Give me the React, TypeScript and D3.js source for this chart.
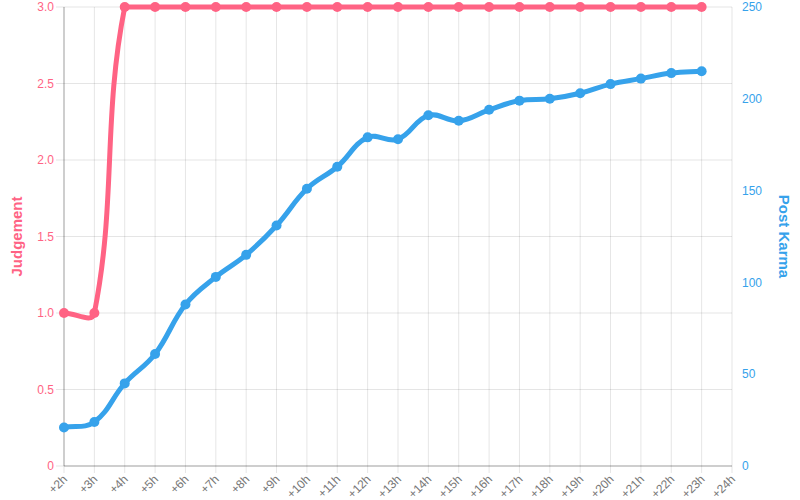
import React from "react";
import * as d3 from "d3";

const hours = ["+2h","+3h","+4h","+5h","+6h","+7h","+8h","+9h","+10h","+11h","+12h","+13h","+14h","+15h","+16h","+17h","+18h","+19h","+20h","+21h","+22h","+23h","+24h"];
const judgement = [1.0, 1.0, 3.0, 3.0, 3.0, 3.0, 3.0, 3.0, 3.0, 3.0, 3.0, 3.0, 3.0, 3.0, 3.0, 3.0, 3.0, 3.0, 3.0, 3.0, 3.0, 3.0];
const postKarma = [21, 24, 45, 61, 88, 103, 115, 131, 151, 163, 179, 178, 191, 188, 194, 199, 200, 203, 208, 211, 214, 215];
const leftTicks = [0, 0.5, 1.0, 1.5, 2.0, 2.5, 3.0];
const rightTicks = [0, 50, 100, 150, 200, 250];

const W = 800, H = 500;
const L = 64, R = 732, T = 7, B = 466;
const PINK = "#ff6384";
const BLUE = "#36a2eb";
const FONT = "'Liberation Sans', Arial, Helvetica, sans-serif";

type P = { x: number; y: number };

function splinePath(pts: P[], tension = 0.4): string {
  const n = pts.length;
  const cps = pts.map((cur, i) => {
    const prev = pts[Math.max(0, i - 1)];
    const next = pts[Math.min(n - 1, i + 1)];
    const d01 = Math.hypot(cur.x - prev.x, cur.y - prev.y);
    const d12 = Math.hypot(next.x - cur.x, next.y - cur.y);
    let s01 = d01 / (d01 + d12);
    let s12 = d12 / (d01 + d12);
    if (!isFinite(s01)) s01 = 0;
    if (!isFinite(s12)) s12 = 0;
    const fa = tension * s01, fb = tension * s12;
    const cap = (p: P): P => ({
      x: Math.min(Math.max(p.x, L), R),
      y: Math.min(Math.max(p.y, T), B),
    });
    return {
      prev: cap({ x: cur.x - fa * (next.x - prev.x), y: cur.y - fa * (next.y - prev.y) }),
      next: cap({ x: cur.x + fb * (next.x - prev.x), y: cur.y + fb * (next.y - prev.y) }),
    };
  });
  const p = d3.path();
  p.moveTo(pts[0].x, pts[0].y);
  for (let i = 1; i < n; i++) {
    const a = cps[i - 1].next, b = cps[i].prev;
    p.bezierCurveTo(a.x, a.y, b.x, b.y, pts[i].x, pts[i].y);
  }
  return p.toString();
}

export default function App() {
  const x = d3.scalePoint<string>().domain(hours).range([L, R]);
  const yL = d3.scaleLinear().domain([0, 3]).range([B, T]);
  const yR = d3.scaleLinear().domain([0, 250]).range([B, T]);

  const pinkPts = judgement.map((v, i) => ({ x: x(hours[i])!, y: yL(v) }));
  const bluePts = postKarma.map((v, i) => ({ x: x(hours[i])!, y: yR(v) }));

  return (
    <svg width={W} height={H} style={{ position: "absolute", left: 0, top: 0 }} fontFamily={FONT}>
      <rect width={W} height={H} fill="#fff" />
      {hours.map((h) => (
        <line key={h} x1={x(h)} x2={x(h)} y1={T} y2={B + 7} stroke="rgba(0,0,0,0.1)" strokeWidth={1} />
      ))}
      {leftTicks.map((t) => (
        <line key={t} x1={L - 8} x2={R} y1={yL(t)} y2={yL(t)} stroke="rgba(0,0,0,0.1)" strokeWidth={1} />
      ))}
      <line x1={L} x2={L} y1={T} y2={B} stroke="rgba(0,0,0,0.3)" strokeWidth={1} />
      <line x1={L} x2={R} y1={B} y2={B} stroke="rgba(0,0,0,0.3)" strokeWidth={1} />
      {leftTicks.map((t) => (
        <text key={t} x={L - 10} y={yL(t)} dy="0.35em" textAnchor="end" fontSize={12} fill={PINK}>
          {t === 0 ? "0" : d3.format(".1f")(t)}
        </text>
      ))}
      {rightTicks.map((t) => (
        <text key={t} x={R + 10} y={yR(t)} dy="0.35em" textAnchor="start" fontSize={12} fill={BLUE}>
          {t}
        </text>
      ))}
      {hours.map((h) => (
        <text key={h} transform={`translate(${x(h)! - 2},${B + 8}) rotate(-45)`} textAnchor="end" dy="0.7em" fontSize={12} fill="#777">
          {h}
        </text>
      ))}
      <text transform={`translate(22,${(T + B) / 2}) rotate(-90)`} textAnchor="middle" fontSize={15} fontWeight="bold" fill={PINK}>
        Judgement
      </text>
      <text transform={`translate(779,${(T + B) / 2}) rotate(90)`} textAnchor="middle" fontSize={15} fontWeight="bold" fill={BLUE}>
        Post Karma
      </text>
      <path d={splinePath(bluePts)} fill="none" stroke={BLUE} strokeWidth={5} strokeLinejoin="round" />
      {bluePts.map((p, i) => (
        <circle key={i} cx={p.x} cy={p.y} r={5} fill={BLUE} />
      ))}
      <path d={splinePath(pinkPts)} fill="none" stroke={PINK} strokeWidth={5} strokeLinejoin="round" />
      {pinkPts.map((p, i) => (
        <circle key={i} cx={p.x} cy={p.y} r={5} fill={PINK} />
      ))}
    </svg>
  );
}
